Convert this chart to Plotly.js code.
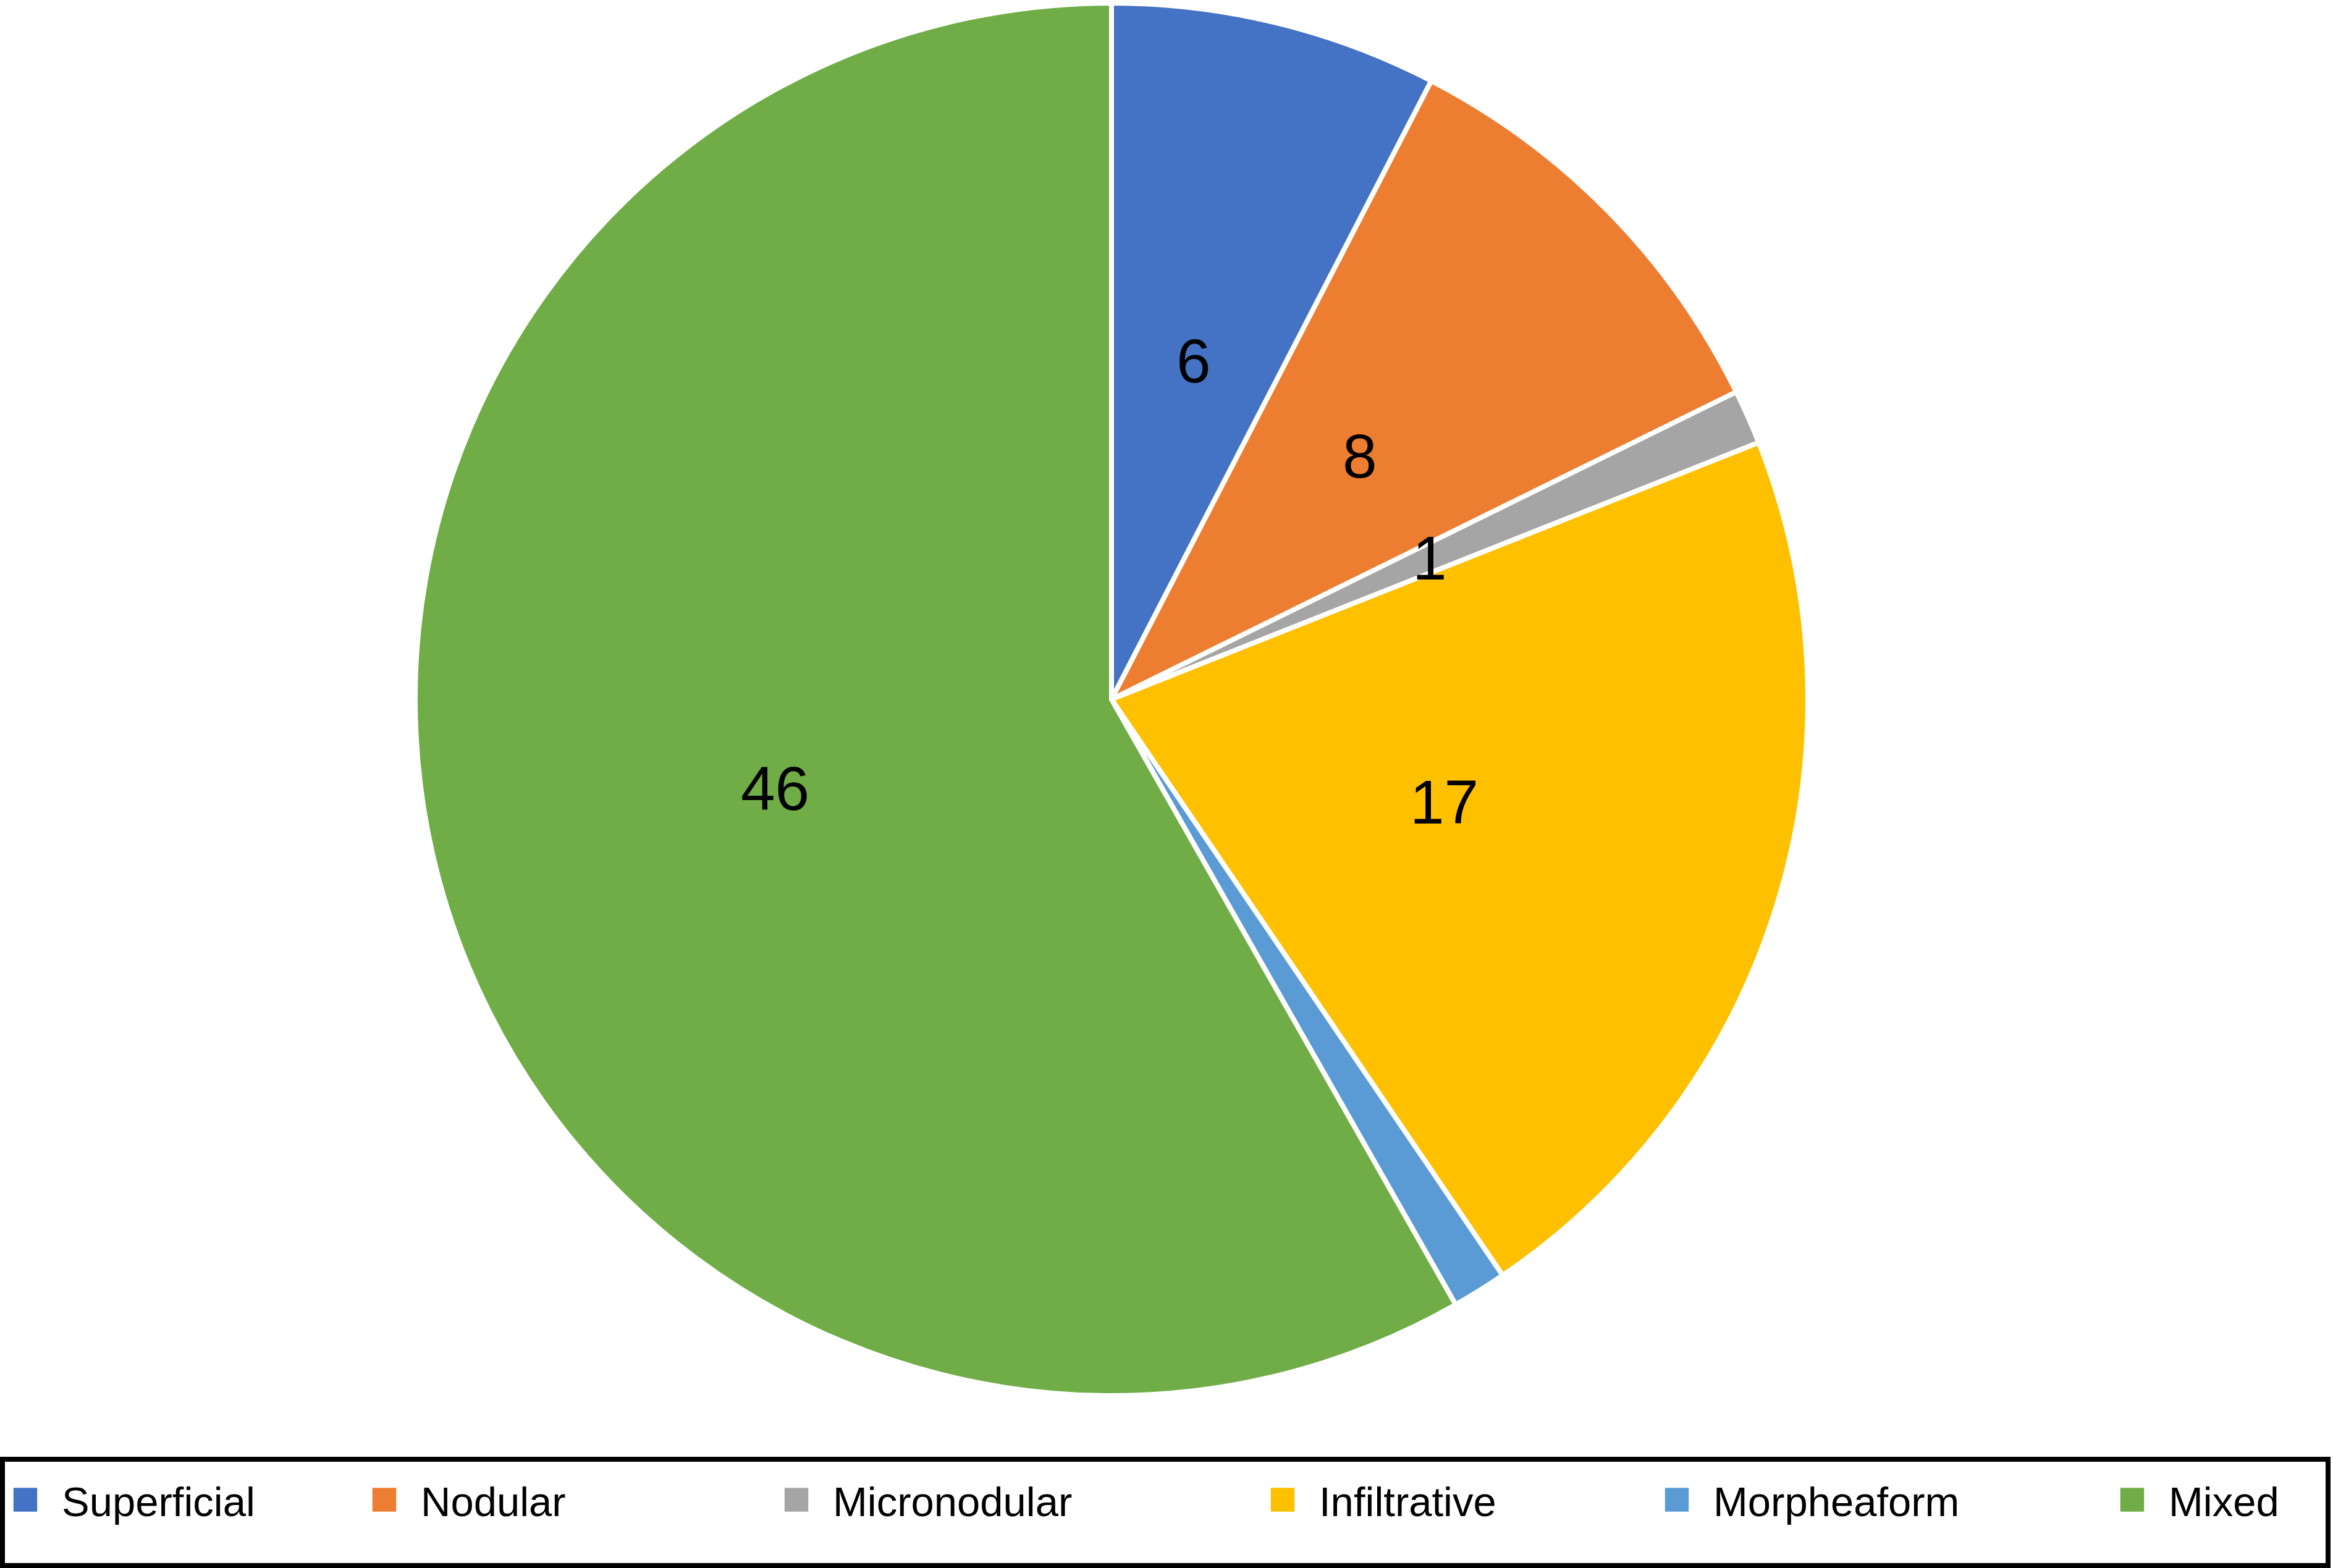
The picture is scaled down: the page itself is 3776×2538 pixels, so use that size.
<!DOCTYPE html>
<html>
<head>
<meta charset="utf-8">
<script src="https://cdn.plot.ly/plotly-3.0.1.min.js"></script>
<style>
  html, body { margin: 0; padding: 0; background: #ffffff; }
  #chart { width: 3776px; height: 2538px; }
  #chart .legend .legendpoints path { transform: translate(41px, 0px) scale(3.2); }
</style>
</head>
<body>
<div id="chart"></div>
<script>
// ---- data ----
const categories = ['Superficial', 'Nodular', 'Micronodular', 'Infiltrative', 'Morpheaform', 'Mixed'];
const counts = [6, 8, 1, 17, 1, 46];
const showValueLabel = [true, true, true, true, false, true];
const sliceColors = ['#4472C4', '#ED7D31', '#A5A5A5', '#FFC000', '#5B9BD5', '#70AD47'];
// legend entry widths (px) to mimic the spacing of the original legend row
const legendEntryWidths = [476, 562, 682, 533, 632, 0];

const FONT = 'Liberation Sans, Arial, Helvetica, sans-serif';
const pieDomain = { x: [672 / 3776, 2926 / 3776], y: [1 - 2259 / 2538, 1 - 5 / 2538] };
const LABEL_RADIUS = 0.5; // data labels sit halfway out along each slice's mid-angle

const pieTrace = {
  type: 'pie',
  labels: categories,
  values: counts,
  sort: false,
  direction: 'clockwise',
  rotation: 0,
  marker: { colors: sliceColors, line: { color: '#ffffff', width: 8 } },
  textinfo: 'none',
  domain: pieDomain,
  showlegend: false,
  hoverinfo: 'label+value'
};

// legend-only entries (one per category)
const legendTraces = categories.map((c, i) => ({
  type: 'bar',
  name: c,
  x: [null],
  y: [null],
  marker: { color: sliceColors[i], line: { width: 0 } },
  showlegend: true,
  legendwidth: legendEntryWidths[i] || undefined,
  hoverinfo: 'skip'
}));

// value labels, placed from the data (mid-angle of each slice) on axes that overlay the pie
const total = counts.reduce((a, b) => a + b, 0);
let cum = 0;
const labelAnnotations = [];
counts.forEach((v, i) => {
  const mid = (cum + v / 2) / total * 2 * Math.PI;
  cum += v;
  if (!showValueLabel[i]) return;
  labelAnnotations.push({
    xref: 'x', yref: 'y',
    x: LABEL_RADIUS * Math.sin(mid),
    y: LABEL_RADIUS * Math.cos(mid),
    text: String(v),
    showarrow: false,
    xanchor: 'center', yanchor: 'middle',
    font: { family: FONT, size: 100, color: '#000000' }
  });
});

const layout = {
  width: 3776,
  height: 2538,
  margin: { l: 0, r: 0, t: 0, b: 0, pad: 0 },
  paper_bgcolor: '#ffffff',
  plot_bgcolor: 'rgba(0,0,0,0)',
  font: { family: FONT, color: '#000000' },
  xaxis: { visible: false, domain: pieDomain.x, range: [-1, 1], fixedrange: true },
  yaxis: { visible: false, domain: pieDomain.y, range: [-1, 1], fixedrange: true },
  showlegend: true,
  legend: {
    orientation: 'h',
    x: 0,
    xanchor: 'left',
    y: 1 - 2428 / 2538,
    yanchor: 'middle',
    itemwidth: 90,
    entrywidthmode: 'pixels',
    font: { family: FONT, size: 67, color: '#000000' },
    bgcolor: 'rgba(0,0,0,0)',
    borderwidth: 0,
    traceorder: 'normal',
    itemclick: false,
    itemdoubleclick: false
  },
  annotations: labelAnnotations,
  shapes: [{
    type: 'rect',
    xref: 'paper', yref: 'paper',
    x0: 4 / 3776, x1: 3768 / 3776,
    y0: 1 - 2534 / 2538, y1: 1 - 2362 / 2538,
    line: { color: '#000000', width: 8 },
    fillcolor: 'rgba(0,0,0,0)',
    layer: 'above'
  }]
};

Plotly.newPlot('chart', [pieTrace].concat(legendTraces), layout, { staticPlot: true, displayModeBar: false });
</script>
</body>
</html>
